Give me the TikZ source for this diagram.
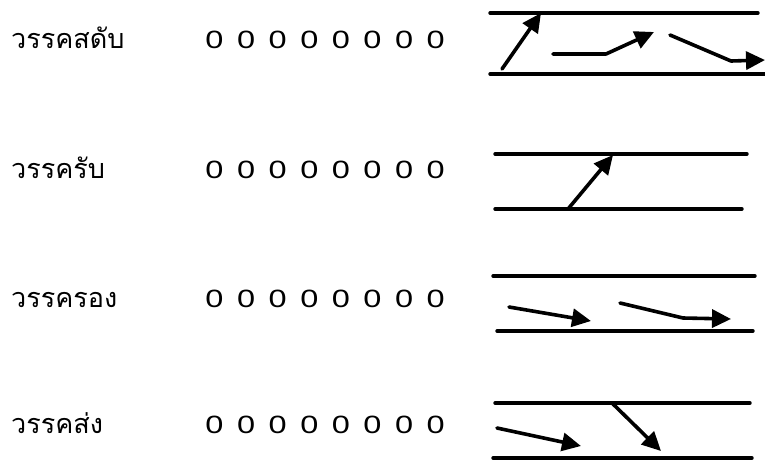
\documentclass[tikz,border=0pt]{standalone}
\usepackage{fontspec}
\newfontfamily\thaifont[Script=Thai]{Loma}
\newfontfamily\zerofont{Liberation Sans}
\usetikzlibrary{arrows.meta}
\tikzset{
  lbl/.style={anchor=base west, inner sep=0pt, font=\thaifont\fontsize{27}{27}\selectfont},
  zero/.style={anchor=base, inner sep=0pt, font=\zerofont\fontsize{25}{25}\selectfont},
  rail/.style={line width=3.4pt, line cap=round},
  arr/.style={line width=3.6pt, line cap=round, line join=round, -{Triangle[length=19pt,width=18pt]}}
}
\newcommand{\wzero}{\scalebox{1.3}[1]{0}}
\begin{document}
\begin{tikzpicture}[x=1pt,y=-1pt]
\useasboundingbox (0,0) rectangle (765,463);
% labels
\node[lbl] (l1) at (11,48) {วรรคสดับ};
\node[lbl] (l2) at (11,178) {วรรครับ};
\node[lbl] (l3) at (11,307) {วรรครอง};
\node[lbl] (l4) at (11,433) {วรรคส่ง};
\foreach \r/\y in {1/48,2/178,3/307,4/433}{
  \foreach \i in {0,...,7}{
    \node[zero] (z\r\i) at ({214.5+31.6*\i},\y) {\wzero};
  }
}
% row 1
\coordinate (t1a) at (490,13); \coordinate (t1b) at (758,13);
\coordinate (b1a) at (490,74); \coordinate (b1b) at (765,74);
\draw[rail] (t1a) -- (t1b);
\draw[rail] (b1a) -- (b1b);
\coordinate (a1s) at (502,69); \coordinate (a1e) at (541,13);
\draw[arr] (a1s) -- (a1e);
\coordinate (a2s) at (553,54); \coordinate (a2m) at (606,54); \coordinate (a2e) at (654,32);
\draw[arr] (a2s) -- (a2m) -- (a2e);
\coordinate (a3s) at (670,35); \coordinate (a3m) at (731,61); \coordinate (a3e) at (765,60);
\draw[arr] (a3s) -- (a3m) -- (a3e);
% row 2
\coordinate (t2a) at (495,154); \coordinate (t2b) at (747,154);
\coordinate (b2a) at (495,209); \coordinate (b2b) at (742,209);
\draw[rail] (t2a) -- (t2b);
\draw[rail] (b2a) -- (b2b);
\coordinate (a4s) at (568,209); \coordinate (a4e) at (613,155);
\draw[arr] (a4s) -- (a4e);
% row 3
\coordinate (t3a) at (493,276); \coordinate (t3b) at (755,276);
\coordinate (b3a) at (497,331); \coordinate (b3b) at (753,331);
\draw[rail] (t3a) -- (t3b);
\draw[rail] (b3a) -- (b3b);
\coordinate (a5s) at (509,307); \coordinate (a5e) at (591,321);
\draw[arr] (a5s) -- (a5e);
\coordinate (a6s) at (620,303); \coordinate (a6m) at (683,318); \coordinate (a6e) at (731,319);
\draw[arr] (a6s) -- (a6m) -- (a6e);
% row 4
\coordinate (t4a) at (495,403); \coordinate (t4b) at (750,403);
\coordinate (b4a) at (493,458); \coordinate (b4b) at (752,458);
\draw[rail] (t4a) -- (t4b);
\draw[rail] (b4a) -- (b4b);
\coordinate (a7s) at (497,428); \coordinate (a7e) at (581,446);
\draw[arr] (a7s) -- (a7e);
\coordinate (a8s) at (613,404); \coordinate (a8e) at (661,451);
\draw[arr] (a8s) -- (a8e);
\end{tikzpicture}
\end{document}
